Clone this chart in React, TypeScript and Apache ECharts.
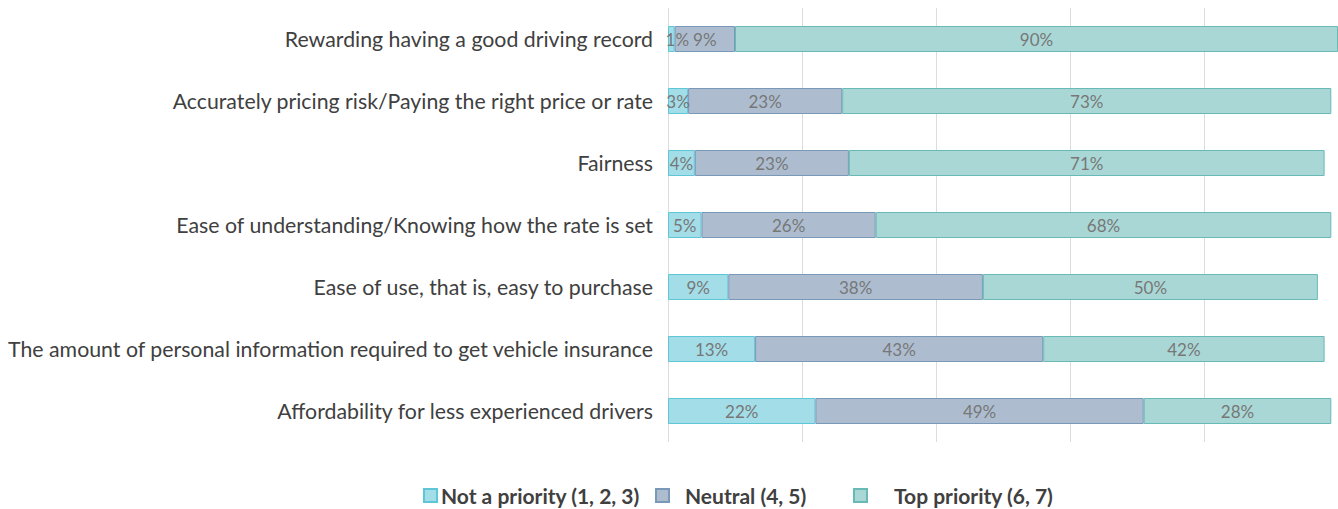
import React, { useEffect, useRef } from "react";
import * as echarts from "echarts";

const categories = [
  "Rewarding having a good driving record",
  "Accurately pricing risk/Paying the right price or rate",
  "Fairness",
  "Ease of understanding/Knowing how the rate is set",
  "Ease of use, that is, easy to purchase",
  "The amount of personal information required to get vehicle insurance",
  "Affordability for less experienced drivers",
];
const notPriority = [1, 3, 4, 5, 9, 13, 22];
const neutral = [9, 23, 23, 26, 38, 43, 49];
const topPriority = [90, 73, 71, 68, 50, 42, 28];
const seriesNames = ["Not a priority (1, 2, 3)", "Neutral (4, 5)", "Top priority (6, 7)"];

const fills = ["#a3dde8", "#adbdcf", "#a9d7d5"];
const borders = ["#5fc6d8", "#7a98b8", "#68bab6"];

export default function App() {
  const ref = useRef<HTMLDivElement>(null);
  useEffect(() => {
    document.body.style.margin = "0";
    const chart = echarts.init(ref.current!, null, { renderer: "svg" });
    const data = [notPriority, neutral, topPriority];
    const font = "Lato, 'Open Sans', sans-serif";
    const legendLefts = [423, 655, 853];
    const legendPads = [-1, 11, 22];
    chart.setOption({
      animation: false,
      grid: { left: 668, right: 0, top: 8, bottom: 67, containLabel: false },
      xAxis: {
        type: "value",
        min: 0,
        max: 100,
        interval: 20,
        axisLabel: { show: false },
        axisLine: { show: false },
        axisTick: { show: false },
        splitLine: { show: true, lineStyle: { color: "#dcdcdc", width: 1 } },
      },
      yAxis: {
        type: "category",
        data: categories,
        inverse: true,
        axisLine: { show: false },
        axisTick: { show: false },
        axisLabel: { color: "#404040", fontSize: 21.3, fontFamily: font, margin: 15 },
      },
      legend: seriesNames.map((n, i) => ({
        data: [n],
        left: legendLefts[i],
        top: 485,
        padding: 0,
        itemWidth: 13,
        itemHeight: 13,
        icon: "rect",
        selectedMode: false,
        textStyle: {
          color: "#404040",
          fontSize: 21,
          fontWeight: "bold",
          fontFamily: font,
          padding: [0, 0, 0, legendPads[i]],
        },
      })),
      series: seriesNames.map((name, i) => ({
        name,
        type: "bar",
        stack: "total",
        barWidth: 26,
        data: data[i].map((v) =>
          v < 2 ? { value: v, label: { offset: [6, 0] } } : v
        ),
        itemStyle: { color: fills[i], borderColor: borders[i], borderWidth: 1 },
        label: {
          show: true,
          position: "inside",
          formatter: "{c}%",
          color: "#777777",
          fontSize: 17,
          fontFamily: font,
        },
      })),
    });
    return () => chart.dispose();
  }, []);
  return <div ref={ref} style={{ width: 1338, height: 509 }} />;
}
